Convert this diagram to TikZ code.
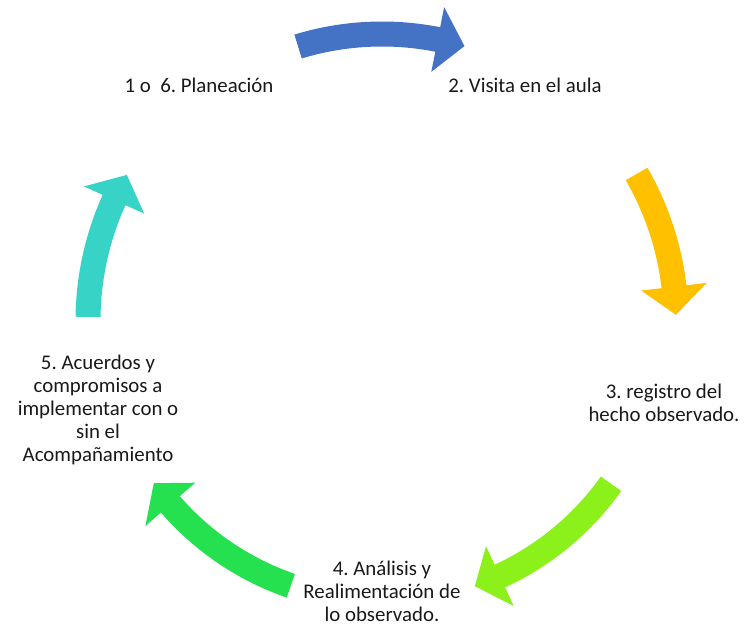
\documentclass[tikz,border=0pt]{standalone}
\usepackage{fontspec}
\setmainfont{Carlito}
\usepackage{tikz}
\usepackage{xcolor}
\usetikzlibrary{positioning}
\definecolor{azul}{HTML}{4472C4}
\definecolor{amarillo}{HTML}{FFC000}
\definecolor{lima}{HTML}{8CF01A}
\definecolor{verde}{HTML}{25E04F}
\definecolor{turquesa}{HTML}{36D3C6}
\tikzstyle{paso} = [align=center, anchor=base, inner sep=0pt, font=\fontsize{17.8}{19.7}\selectfont, text=black!90]
% flecha curva: #1 = angulo cola, #2 = angulo punta, #3 = radio, #4 = color
\newcommand{\flechacurva}[4]{%
  \fill[#4] ({#1}:{#3+12.5}) arc[start angle={#1}, end angle={#2+5.5}, radius={#3+12.5}]
    -- ({#2+5.5}:{#3+33}) -- ({#2}:{#3}) -- ({#2+5.5}:{#3-33}) -- ({#2+5.5}:{#3-12.5})
    arc[start angle={#2+5.5}, end angle={#1}, radius={#3-12.5}] -- cycle;}

\begin{document}
\frenchspacing
\begin{tikzpicture}[x=0.03cm, y=0.03cm]
    \useasboundingbox (-382,-307) rectangle (366,321);
    \node (plan) [paso] at (-183,228) {1 o\ \ 6. Planeación};
    \node (visita) [paso] at (143,228) {2. Visita en el aula};
    \node (registro) [paso] at (282,-101) {3. registro del\\hecho observado.};
    \node (analisis) [paso] at (0,-301) {4. Análisis y\\Realimentación de\\lo observado.};
    \node (acuerdos) [paso] at (-284,-141) {5. Acuerdos y\\compromisos a\\implementar con o\\sin el\\Acompañamiento};
    \flechacurva{107}{73.3}{287}{azul}
    \flechacurva{30}{1.2}{294}{amarillo}
    \flechacurva{-35.4}{-70.7}{281}{lima}
    \flechacurva{-109}{-144.6}{280}{verde}
    \flechacurva{179.2}{150.2}{294}{turquesa}
\end{tikzpicture}
\end{document}
